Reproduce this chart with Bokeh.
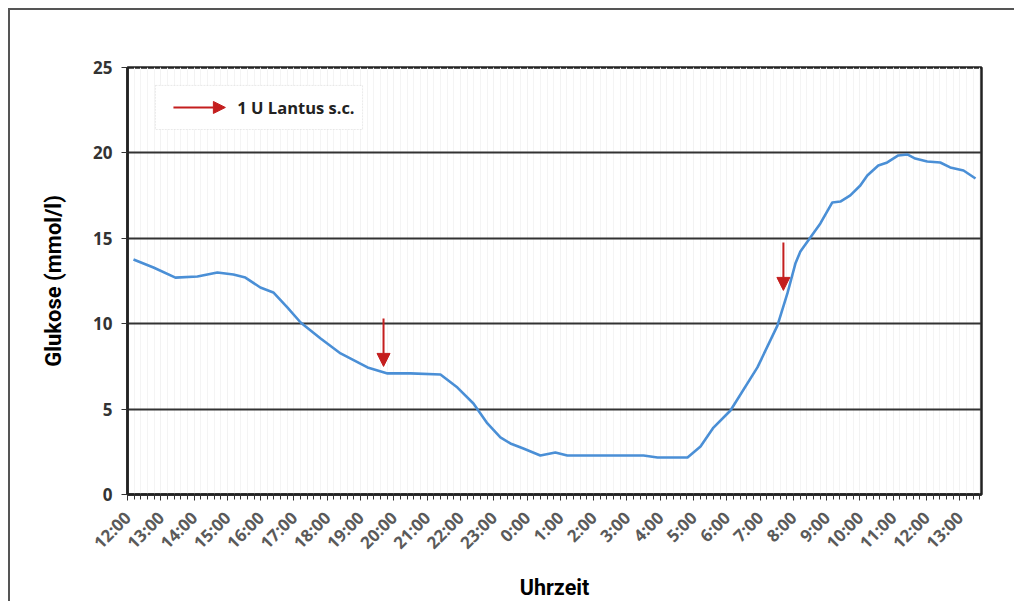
import math
from bokeh.plotting import figure
from bokeh.models import FixedTicker, Arrow, NormalHead, Label, BoxAnnotation, Range1d
from bokeh.embed import file_html
from bokeh.resources import INLINE

# hours elapsed since 12:00 (day 1)
hours = [0.18, 0.78, 1.44, 2.10, 2.70, 3.18, 3.54, 3.99, 4.38, 4.80, 5.20, 5.80, 6.40,
         7.21, 7.81, 8.50, 9.40, 9.91, 10.39, 10.81, 11.20, 11.50, 11.89, 12.40, 12.85,
         13.21, 14.59, 15.50, 15.92, 16.82, 17.21, 17.60, 18.11, 18.92, 19.52, 19.82,
         20.06, 20.21, 20.51, 20.81, 21.17, 21.41, 21.71, 22.01, 22.22, 22.55, 22.82,
         23.15, 23.42, 23.66, 24.02, 24.41, 24.71, 25.11, 25.47]
glucose = [13.76, 13.29, 12.70, 12.76, 13.00, 12.88, 12.70, 12.12, 11.83, 10.95, 10.07, 9.13, 8.26,
           7.44, 7.09, 7.09, 7.03, 6.26, 5.33, 4.16, 3.34, 2.99, 2.69, 2.28, 2.46,
           2.28, 2.28, 2.28, 2.17, 2.17, 2.81, 3.92, 4.92, 7.44, 9.89, 11.77,
           13.52, 14.23, 15.05, 15.87, 17.10, 17.15, 17.51, 18.09, 18.68, 19.26, 19.44,
           19.85, 19.91, 19.67, 19.50, 19.44, 19.15, 18.97, 18.50]

tick_labels = ["12:00", "13:00", "14:00", "15:00", "16:00", "17:00", "18:00", "19:00",
               "20:00", "21:00", "22:00", "23:00", "0:00", "1:00", "2:00", "3:00", "4:00",
               "5:00", "6:00", "7:00", "8:00", "9:00", "10:00", "11:00", "12:00", "13:00"]
y_ticks = [0, 5, 10, 15, 20, 25]

# insulin doses (1 U Lantus s.c.)
dose_hours = [7.69, 19.7]
dose_top = [10.3, 14.75]
dose_bottom = [7.5, 11.95]

RED = "#c41e1e"
BLUE = "#4a8fd6"

p = figure(width=1006, height=593, output_backend="svg", toolbar_location=None,
           x_range=Range1d(0, 25.65), y_range=Range1d(0, 25),
           min_border_left=117, min_border_right=35, min_border_top=57, min_border_bottom=109)
p.styles = {"border-left": "2px solid #555", "border-top": "2px solid #555",
            "margin-left": "8px", "margin-top": "8px"}

p.line(hours, glucose, line_color=BLUE, line_width=2.6, line_join="round")

# x axis
p.xaxis.ticker = FixedTicker(ticks=list(range(len(tick_labels))),
                             minor_ticks=[i / 5 for i in range(0, 5 * 25 + 4)])
p.xaxis.major_label_overrides = {i: t for i, t in enumerate(tick_labels)}
p.xaxis.major_label_orientation = math.pi / 4
p.xaxis.major_label_text_font = "Open Sans"
p.xaxis.major_label_text_font_style = "bold"
p.xaxis.major_label_text_font_size = "17px"
p.xaxis.major_label_text_color = "#5a5a5a"
p.xaxis.major_label_standoff = 14
p.xaxis.major_tick_in = 0
p.xaxis.major_tick_out = 6
p.xaxis.minor_tick_in = 0
p.xaxis.minor_tick_out = 5
p.xaxis.minor_tick_line_color = "#333333"
p.xaxis.major_tick_line_color = "#333333"
p.xaxis.axis_line_width = 2.5
p.xaxis.axis_line_color = "#222222"
p.xaxis.axis_label = "Uhrzeit"
p.xaxis.axis_label_text_font = "Roboto"
p.xaxis.axis_label_text_font_style = "bold"
p.xaxis.axis_label_text_font_size = "21.5px"
p.xaxis.axis_label_text_color = "#000000"
p.xaxis.axis_label_standoff = 10

# y axis
p.yaxis.ticker = FixedTicker(ticks=y_ticks, minor_ticks=[])
p.yaxis.major_label_text_font = "Open Sans"
p.yaxis.major_label_text_font_style = "bold"
p.yaxis.major_label_text_font_size = "17px"
p.yaxis.major_label_text_color = "#333333"
p.yaxis.major_label_standoff = 9
p.yaxis.major_tick_in = 0
p.yaxis.major_tick_out = 6
p.yaxis.major_tick_line_color = "#333333"
p.yaxis.axis_line_width = 2.5
p.yaxis.axis_line_color = "#222222"
p.yaxis.axis_label = "Glukose (mmol/l)"
p.yaxis.axis_label_text_font = "Roboto"
p.yaxis.axis_label_text_font_style = "bold"
p.yaxis.axis_label_text_font_size = "22px"
p.yaxis.axis_label_text_color = "#000000"
p.yaxis.axis_label_standoff = 24

# grids
p.ygrid.grid_line_color = "#333333"
p.ygrid.grid_line_width = 2
p.xgrid.grid_line_color = "#f2f2f2"
p.xgrid.grid_line_width = 1
p.xgrid.minor_grid_line_color = "#f4f4f4"
p.xgrid.minor_grid_line_width = 1

p.outline_line_color = "#222222"
p.outline_line_width = 2.5
p.background_fill_color = "white"
p.border_fill_color = "white"

# dose arrows
for xh, yt, yb in zip(dose_hours, dose_top, dose_bottom):
    p.add_layout(Arrow(x_start=xh, y_start=yt, x_end=xh, y_end=yb,
                       line_color=RED, line_width=2,
                       end=NormalHead(size=13, fill_color=RED, line_color=RED)))

# legend box
p.add_layout(BoxAnnotation(left=0.84, right=7.06, bottom=21.37, top=23.95,
                           fill_color="white", fill_alpha=1.0,
                           line_color="#bbbbbb", line_width=1, line_dash="2 1"))
p.add_layout(Arrow(x_start=1.38, y_start=22.66, x_end=2.94, y_end=22.66,
                   line_color=RED, line_width=2,
                   end=NormalHead(size=12, fill_color=RED, line_color=RED)))
p.add_layout(Label(x=3.3, y=22.66, text="1 U Lantus s.c.", text_baseline="middle",
                   text_font="Open Sans", text_font_style="bold", text_font_size="16.5px",
                   text_color="#222222"))

open("out.html", "w").write(file_html(p, INLINE))
